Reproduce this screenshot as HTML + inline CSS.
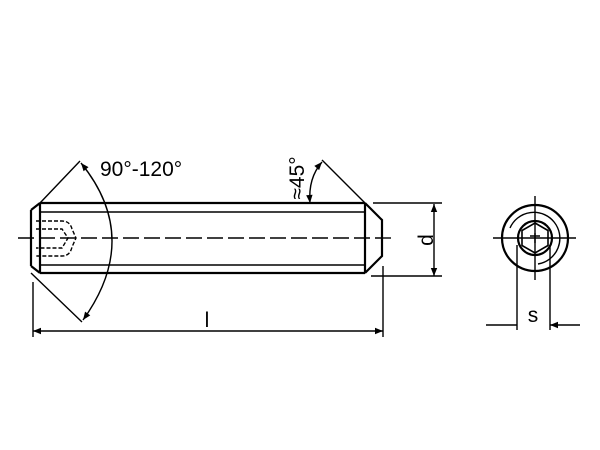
<!DOCTYPE html><html><head><style>body{margin:0;background:#fff}svg{display:block}</style></head><body>
<svg width="600" height="450" viewBox="0 0 600 450" xmlns="http://www.w3.org/2000/svg" font-family="Liberation Sans, DejaVu Sans, sans-serif">
<defs><marker id="a" viewBox="0 0 10 10" refX="10" refY="5" markerWidth="11" markerHeight="8" orient="auto-start-reverse" markerUnits="userSpaceOnUse"><path d="M0,1L10,5L0,9z" fill="#000"/></marker></defs>
<g stroke="#000" fill="none" stroke-width="2.2">
<path d="M40,203H365M40,273H365M31,210L40,203M31,266L40,273M31,210V266M40,203V273M365,203V273M365,203L382,220V256L365,273"/>
</g>
<g stroke="#000" fill="none" stroke-width="1.4">
<path d="M40,212H365M40,265H365"/>
<path d="M18,238H395" stroke-dasharray="16,5"/>
<path d="M36,221H62Q70,221 72,229L76,238L72,247Q70,256 62,256H36M36,229H62L68,238L62,248H36" stroke-dasharray="4,2"/>
<path d="M40,203L80,161M31,273L82,322M365,203L322,160"/>
<path d="M81,163Q142,238 83,320" marker-start="url(#a)" marker-end="url(#a)"/>
<path d="M310,203Q308,178 322,162" marker-start="url(#a)" marker-end="url(#a)"/>
<path d="M373,203H442M371,276H442"/>
<path d="M434,204V276" marker-start="url(#a)" marker-end="url(#a)"/>
<path d="M33,282V337M383,266V337"/>
<path d="M33,331H383" marker-start="url(#a)" marker-end="url(#a)"/>
<path d="M493,238H576M535,196V280M517,245V330M550,245V330"/>
<path d="M486,325H517M580,325H550" marker-end="url(#a)"/>
<path d="M530,236H540M535,233V243"/>
</g>
<g stroke="#000" fill="none" stroke-width="2.2">
<circle cx="535" cy="238" r="33"/>
<circle cx="535" cy="238" r="17"/>
<path d="M535,223L548,230.5V245.5L535,253L522,245.5V230.5Z" stroke-width="1.6"/>
<path d="M510,228A26,26 0 1 1 538,264" stroke-width="1.4"/>
</g>
<g font-size="21" fill="#000">
<text x="100" y="176">90°-120°</text>
<text x="207" y="327" text-anchor="middle">l</text>
<text x="533" y="322" text-anchor="middle">s</text>
<text transform="translate(433,240) rotate(-90)" text-anchor="middle">d</text>
<text transform="translate(304,178) rotate(-90)" text-anchor="middle">≈45°</text>
</g>
</svg></body></html>
